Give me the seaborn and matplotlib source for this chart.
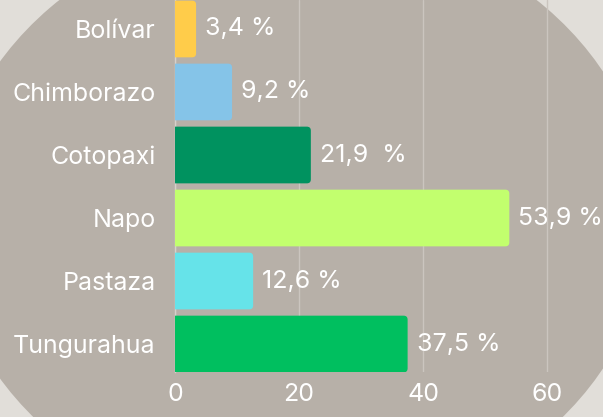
import numpy as np
import pandas as pd
import matplotlib
matplotlib.use("Agg")
import matplotlib.pyplot as plt
from matplotlib.patches import FancyBboxPatch, Ellipse
import seaborn as sns

# datos
provincias = ["Bolívar", "Chimborazo", "Cotopaxi", "Napo", "Pastaza", "Tungurahua"]
porcentajes = [3.4, 9.2, 21.9, 53.9, 12.6, 37.5]
etiquetas = ["3,4 %", "9,2 %", "21,9  %", "53,9 %", "12,6 %", "37,5 %"]
colores = ["#FFCC4A", "#85C4E8", "#00925F", "#C2FF6E", "#66E3E9", "#00BF5F"]
ticks_x = [0, 20, 40, 60]

df = pd.DataFrame({"provincia": provincias, "porcentaje": porcentajes})

sns.set_style("white")
plt.rcParams["font.family"] = ["Inter", "DejaVu Sans"]
plt.rcParams["font.weight"] = "normal"

fig = plt.figure(figsize=(6.03, 4.17), dpi=100)
fig.patch.set_facecolor("#e1ded9")

# fondo: elipse gris detras de todo
fondo = Ellipse((298 / 100, (417 - 220) / 100), 7.02, 6.0,
                transform=fig.dpi_scale_trans, facecolor="#b7b0a8",
                edgecolor="none", zorder=-10)
fig.patches.append(fondo)

ax = fig.add_axes([175 / 603, 45 / 417, 428 / 603, 372 / 417])
ax.set_facecolor("none")

sns.barplot(data=df, y="provincia", x="porcentaje", hue="provincia",
            palette=colores, saturation=1, orient="h", width=0.9,
            legend=False, ax=ax)

# barras con esquinas redondeadas a la derecha
px_x = 428 / 69
px_y = 63
radio = 4 / px_x
for p in list(ax.patches):
    x0, y0 = p.get_x(), p.get_y()
    w, h = p.get_width(), p.get_height()
    color = p.get_facecolor()
    p.set_visible(False)
    nueva = FancyBboxPatch((x0 - 2, y0), w + 2, h,
                           boxstyle=f"round,pad=0,rounding_size={radio}",
                           mutation_aspect=px_x / px_y,
                           facecolor=color, edgecolor="none", zorder=3)
    ax.add_patch(nueva)

for i, (v, t) in enumerate(zip(porcentajes, etiquetas)):
    ax.annotate(t, (v, i), xytext=(6.5, 0), textcoords="offset points",
                va="center", ha="left", color="white", fontsize=18)

ax.set_xlim(0, 69)
ax.set_ylim(5.444, -0.46)
ax.set_xticks(ticks_x)
ax.set_xlabel("")
ax.set_ylabel("")
ax.tick_params(axis="both", length=0, colors="white", labelsize=18)
ax.tick_params(axis="y", pad=14)
ax.tick_params(axis="x", pad=8)

ax.grid(axis="x", color="#cbc5bf", linewidth=1)
ax.set_axisbelow(True)
for s in ["top", "right", "bottom"]:
    ax.spines[s].set_visible(False)
ax.spines["left"].set_color("#d6d1cb")
ax.spines["left"].set_linewidth(1)

fig.savefig("out.png", dpi=100, facecolor=fig.get_facecolor())
